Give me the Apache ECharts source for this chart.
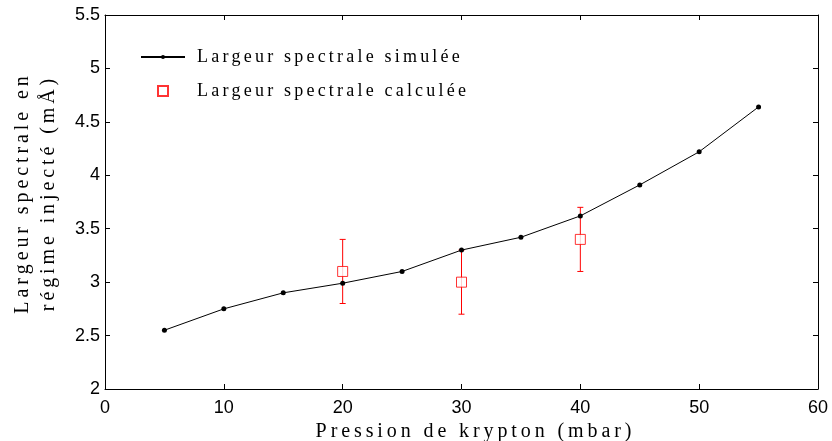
<!DOCTYPE html>
<html><head><meta charset="utf-8">
<script src="https://cdn.jsdelivr.net/npm/echarts@6/dist/echarts.min.js"></script>
<style>html,body{margin:0;padding:0;background:#fff}#c{width:832px;height:441px}</style>
</head><body><div id="c"></div>
<script>
var simX = [5, 10, 15, 20, 25, 30, 35, 40, 45, 50, 55];
var simY = [2.55, 2.75, 2.9, 2.99, 3.1, 3.3, 3.42, 3.62, 3.91, 4.22, 4.64];
var calcX = [20, 30, 40];
var calcY = [3.1, 3.0, 3.4];
var calcLow = [2.8, 2.7, 3.1];
var calcHigh = [3.4, 3.3, 3.7];
var xTicks = [0, 10, 20, 30, 40, 50, 60];
var yTicks = [2, 2.5, 3, 3.5, 4, 4.5, 5, 5.5];
var nameSim = 'Largeur spectrale simulée';
var nameCalc = 'Largeur spectrale calculée';
var xTitle = 'Pression de krypton (mbar)';
var yTitleLines = ['Largeur spectrale en', 'régime injecté (mÅ)'];

// letter spacing for the serif (LaTeX-like) texts, applied at canvas draw time
var spacing = {};
spacing[nameSim] = 3.2; spacing[nameCalc] = 3.2;
spacing[xTitle] = 3.9;
yTitleLines.forEach(function(l){ spacing[l] = 3.9; });
(function(){
  var proto = CanvasRenderingContext2D.prototype;
  var origFill = proto.fillText;
  proto.fillText = function(t, x, y){
    var s = spacing[t];
    if (s == null) return origFill.apply(this, arguments);
    var chars = Array.from(t);
    var ctx = this;
    var widths = chars.map(function(c){ return ctx.measureText(c).width; });
    var total = s * (chars.length - 1);
    widths.forEach(function(w){ total += w; });
    var al = this.textAlign;
    var x0 = x;
    if (al === 'center') x0 = x - total / 2;
    else if (al === 'right' || al === 'end') x0 = x - total;
    this.textAlign = 'left';
    for (var i = 0; i < chars.length; i++) {
      origFill.call(this, chars[i], x0, y);
      x0 += widths[i] + s;
    }
    this.textAlign = al;
  };
})();

var serif = 'Liberation Serif';
var sans = 'Liberation Sans';
var chart = echarts.init(document.getElementById('c'));
var simData = simX.map(function(x, i){ return [x, simY[i]]; });
var calcData = calcX.map(function(x, i){ return [x, calcY[i]]; });
var errData = calcX.map(function(x, i){ return [x, calcLow[i], calcHigh[i]]; });
var axisCommon = {
  axisLine: {show: true, onZero: false, lineStyle: {color: '#000', width: 1}},
  axisTick: {show: true, inside: true, length: 5, lineStyle: {color: '#000'}},
  splitLine: {show: false}
};
var legendText = {fontFamily: serif, fontSize: 18, color: '#000'};
chart.setOption({
  animation: false,
  grid: {left: 105, right: 14, top: 15, bottom: 52, containLabel: false, outerBoundsMode: 'none'},
  legend: [
    {padding: 0, left: 140, top: 48, itemWidth: 44, itemHeight: 5,
      data: [{name: nameSim}], textStyle: Object.assign({padding: [0, 0, 0, 7]}, legendText)},
    {padding: 0, left: 157, top: 82, itemWidth: 10, itemHeight: 10,
      data: [{name: nameCalc}], textStyle: Object.assign({padding: [0, 0, 0, 24]}, legendText)}
  ],
  xAxis: [
    Object.assign({type: 'value', min: xTicks[0], max: xTicks[xTicks.length-1], interval: 10,
      position: 'bottom',
      name: xTitle, nameLocation: 'middle', nameGap: 26,
      nameTextStyle: {fontFamily: serif, fontSize: 20, color: '#000', padding: [0, 0, 0, 24]},
      axisLabel: {fontFamily: sans, fontSize: 18, color: '#000', margin: 10}}, axisCommon),
    Object.assign({type: 'value', min: 0, max: 60, interval: 10, position: 'top',
      axisLabel: {show: false}}, axisCommon)
  ],
  yAxis: [
    Object.assign({type: 'value', min: yTicks[0], max: yTicks[yTicks.length-1], interval: 0.5,
      position: 'left',
      name: yTitleLines.join('\n'), nameLocation: 'middle', nameGap: 43,
      nameTextStyle: {fontFamily: serif, fontSize: 20, color: '#000', lineHeight: 26, padding: [0, 0, 0, 14]},
      axisLabel: {fontFamily: sans, fontSize: 18, color: '#000', margin: 5}}, axisCommon),
    Object.assign({type: 'value', min: 2, max: 5.5, interval: 0.5, position: 'right',
      axisLabel: {show: false}}, axisCommon)
  ],
  series: [
    {name: nameSim, type: 'line', data: simData, symbol: 'circle', symbolSize: 5,
      lineStyle: {color: '#000', width: 1}, itemStyle: {color: '#000'}, z: 3},
    {name: 'err', type: 'custom', data: errData, z: 2,
      renderItem: function(params, api){
        var x = api.value(0);
        var lo = api.coord([x, api.value(1)]);
        var hi = api.coord([x, api.value(2)]);
        var w = 3;
        var st = {stroke: '#ff0000', lineWidth: 1};
        return {type: 'group', children: [
          {type: 'line', shape: {x1: lo[0], y1: lo[1], x2: hi[0], y2: hi[1]}, style: st},
          {type: 'line', shape: {x1: lo[0]-w, y1: lo[1], x2: lo[0]+w, y2: lo[1]}, style: st},
          {type: 'line', shape: {x1: hi[0]-w, y1: hi[1], x2: hi[0]+w, y2: hi[1]}, style: st}
        ]};
      }},
    {name: nameCalc, type: 'scatter', data: calcData, symbol: 'rect', symbolSize: 10,
      itemStyle: {color: '#fff', borderColor: '#ff0000', borderWidth: 1}, z: 4}
  ]
});
</script></body></html>
